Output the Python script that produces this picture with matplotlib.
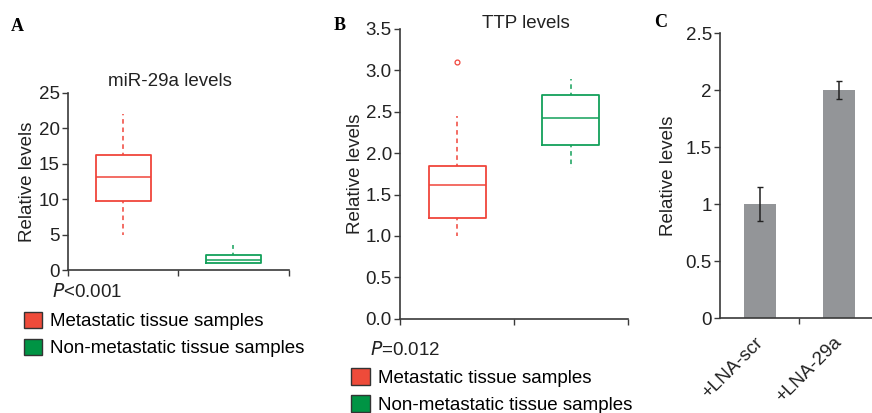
import numpy as np
import matplotlib
matplotlib.use('Agg')
import matplotlib.pyplot as plt
from matplotlib.patches import Patch
from matplotlib.ticker import FormatStrFormatter

plt.rcParams['font.family'] = ['Liberation Sans', 'DejaVu Sans']

# Panel A - miR-29a levels (box stats)
a_groups = ['Metastatic', 'Non-metastatic']
a_whislo = [5.0, 1.0]
a_q1 = [9.8, 1.0]
a_med = [13.1, 1.4]
a_q3 = [16.3, 2.2]
a_whishi = [22.0, 3.5]
a_fliers = [[], []]

# Panel B - TTP levels
b_whislo = [1.0, 1.82]
b_q1 = [1.22, 2.1]
b_med = [1.61, 2.42]
b_q3 = [1.84, 2.7]
b_whishi = [2.45, 2.9]
b_fliers = [[3.1], []]

# Panel C - bars
c_labels = ['+LNA-scr', '+LNA-29a']
c_values = [1.0, 2.0]
c_err = [0.15, 0.075]

red = '#f0453b'
green = '#13a05a'
legend_red = '#ee4b3a'
legend_green = '#009444'
axis_col = '#3a3a3a'
bar_col = '#939598'
txt = '#222222'
fs = 13.5

fig = plt.figure(figsize=(8.72, 4.13), dpi=100)


def make_stats(whislo, q1, med, q3, whishi, fliers):
    out = []
    for i in range(len(med)):
        out.append(dict(whislo=whislo[i], q1=q1[i], med=med[i], q3=q3[i],
                        whishi=whishi[i], fliers=fliers[i]))
    return out


def style_axes(ax):
    for s in ['top', 'right']:
        ax.spines[s].set_visible(False)
    for s in ['left', 'bottom']:
        ax.spines[s].set_color(axis_col)
        ax.spines[s].set_linewidth(1.2)
    ax.tick_params(colors=axis_col, labelcolor=txt, labelsize=fs,
                   width=1.0, length=4, pad=2)


def draw_box(ax, stats):
    cols = [red, green]
    for i, st in enumerate(stats):
        c = cols[i]
        ax.bxp([st], positions=[i + 1], widths=0.5, showcaps=False,
               boxprops=dict(color=c, linewidth=1.3),
               medianprops=dict(color=c, linewidth=1.1),
               whiskerprops=dict(color=c, linewidth=1.1, linestyle=(1.5, (3, 2.5))),
               flierprops=dict(marker='o', markersize=3.5, markerfacecolor='none',
                               markeredgecolor=c, markeredgewidth=0.9))
    ax.set_xlim(0.5, 2.5)
    ax.set_xticks([0.5, 1.5, 2.5])
    ax.set_xticklabels([])


def add_legend(anchor):
    fig.legend(handles=[Patch(facecolor=legend_red, edgecolor='#333333', label='Metastatic tissue samples'),
                        Patch(facecolor=legend_green, edgecolor='#333333', label='Non-metastatic tissue samples')],
               loc='upper left', bbox_to_anchor=anchor, frameon=False, fontsize=fs,
               handlelength=1.0, handleheight=0.95, handletextpad=0.4, labelspacing=0.45,
               borderaxespad=0, borderpad=0)


# ---- A ----
axA = fig.add_axes([0.078, 0.346, 0.253, 0.429])
draw_box(axA, make_stats(a_whislo, a_q1, a_med, a_q3, a_whishi, a_fliers))
axA.set_ylim(0, 25)
axA.set_yticks([0, 5, 10, 15, 20, 25])
style_axes(axA)
axA.set_ylabel('Relative levels', fontsize=fs, color=txt, labelpad=2)
axA.set_title('miR-29a levels', fontsize=fs, color=txt, pad=5, x=0.46)
fig.text(0.012, 0.925, 'A', fontsize=13, fontweight='bold', family='Liberation Serif')
fig.text(0.060, 0.292, '$P$<0.001', fontsize=fs, color=txt, va='center')
add_legend((0.027, 0.245))

# ---- B ----
axB = fig.add_axes([0.459, 0.228, 0.261, 0.702])
draw_box(axB, make_stats(b_whislo, b_q1, b_med, b_q3, b_whishi, b_fliers))
axB.set_ylim(0, 3.5)
axB.set_yticks(np.arange(0, 3.51, 0.5))
axB.yaxis.set_major_formatter(FormatStrFormatter('%.1f'))
style_axes(axB)
axB.set_ylabel('Relative levels', fontsize=fs, color=txt, labelpad=1)
fig.text(0.603, 0.943, 'TTP levels', fontsize=fs, color=txt, ha='center', va='center')
fig.text(0.383, 0.928, 'B', fontsize=13, fontweight='bold', family='Liberation Serif')
fig.text(0.424, 0.153, '$P$=0.012', fontsize=fs, color=txt, va='center')
add_legend((0.403, 0.108))

# ---- C ----
axC = fig.add_axes([0.826, 0.230, 0.174, 0.690])
x = np.arange(1, len(c_values) + 1)
axC.bar(x, c_values, width=0.4, color=bar_col)
axC.errorbar(x, c_values, yerr=c_err, fmt='none', ecolor=txt,
             elinewidth=1.1, capsize=2, capthick=1.0)
axC.set_xlim(0.5, 2.42)
axC.set_ylim(0, 2.5)
axC.set_yticks([0, 0.5, 1, 1.5, 2, 2.5])
axC.set_yticklabels(['0', '0.5', '1', '1.5', '2', '2.5'])
axC.set_xticks([1.5])
axC.set_xticklabels([])
style_axes(axC)
for xi, lab in zip(x, c_labels):
    axC.text(xi - 0.07, -0.14, lab, rotation=45, ha='right', va='top',
             rotation_mode='anchor', fontsize=fs, color=txt)
axC.set_ylabel('Relative levels', fontsize=fs, color=txt, labelpad=6)
fig.text(0.750, 0.935, 'C', fontsize=13, fontweight='bold', family='Liberation Serif')

fig.savefig('out.png', dpi=100)
